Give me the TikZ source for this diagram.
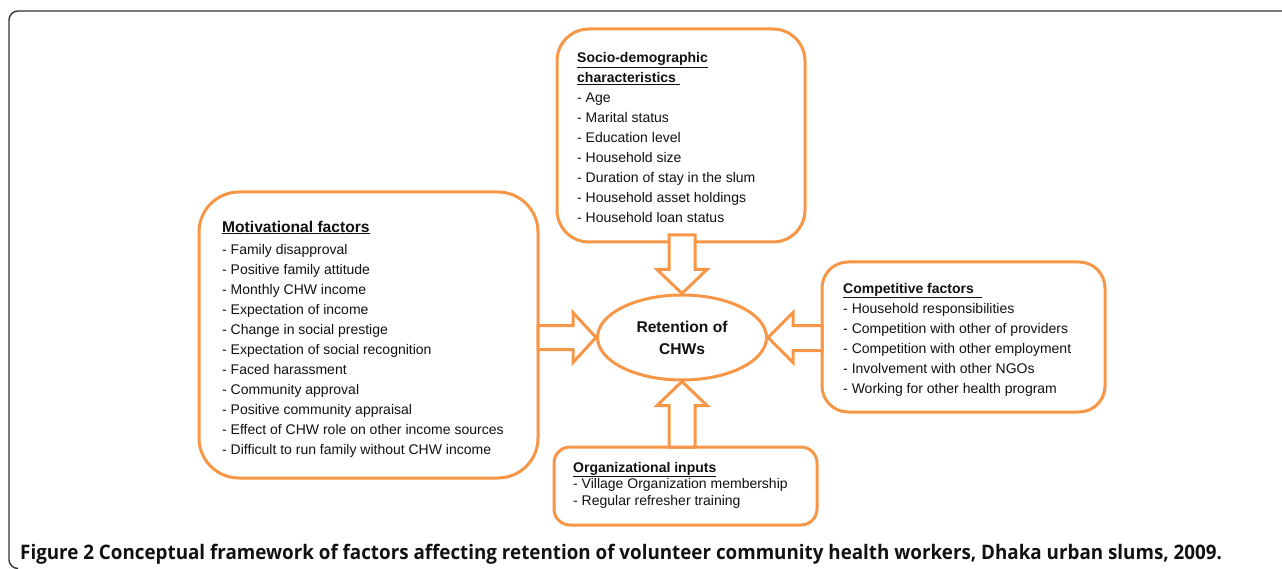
\documentclass[tikz,border=0pt]{standalone}
\usepackage{fontspec}
\setmainfont{Liberation Sans}
\newfontfamily\capbold{Open Sans}
\usetikzlibrary{shapes.geometric,calc}
\definecolor{orng}{HTML}{F79646}
\definecolor{framec}{HTML}{333333}
\definecolor{txt}{HTML}{111111}
\tikzset{
  fbox/.style={draw=orng, line width=3pt, fill=white, rounded corners=#1,
    rectangle, inner sep=0pt, outer sep=0pt, anchor=north west},
  blockarrow/.style={draw=orng, line width=3pt, fill=white, line join=miter},
  boxtext/.style={anchor=base west, align=left, inner sep=0pt, text=txt,
    font=\fontsize{14}{20}\selectfont},
  frame/.style={draw=framec, line width=1.4pt, rounded corners=9pt},
}
\newcommand{\ttl}[1]{\underline{\textbf{#1}}}
\begin{document}
\begin{tikzpicture}[x=1pt,y=-1pt]
\useasboundingbox (0,0) rectangle (1282,569);
% outer frame
\draw[frame] (16,568.5) -- (9,568.5) -- (9,11) -- (1300,11);

% boxes
\node[fbox=32pt, minimum width=248pt, minimum height=213pt] (socio) at (557,29) {};
\node[fbox=40pt, minimum width=339pt, minimum height=286pt] (motiv) at (199,192) {};
\node[fbox=26pt, minimum width=283pt, minimum height=150pt] (comp) at (822,262) {};
\node[fbox=16pt, minimum width=263pt, minimum height=78pt] (org) at (554,447) {};

% ellipse
\node[ellipse, draw=orng, line width=3pt, fill=white, minimum width=169pt,
  minimum height=85pt, inner sep=0pt, align=center, text=txt,
  font=\fontsize{15.6}{22}\selectfont\bfseries] (ell) at (682,337.5) {Retention of\\CHWs};

% block arrows
\draw[blockarrow] (ell.north) -- ($(ell.north)+(25,-24)$) -- ($(ell.north)+(13,-24)$)
  -- ($(ell.north |- socio.south)+(13,-7)$) -- ($(ell.north |- socio.south)+(-13,-7)$)
  -- ($(ell.north)+(-13,-24)$) -- ($(ell.north)+(-25,-24)$) -- cycle;
\draw[blockarrow] (ell.south) -- ($(ell.south)+(25,24)$) -- ($(ell.south)+(13,24)$)
  -- ($(ell.south |- org.north)+(13,0)$) -- ($(ell.south |- org.north)+(-13,0)$)
  -- ($(ell.south)+(-13,24)$) -- ($(ell.south)+(-25,24)$) -- cycle;
\draw[blockarrow] (ell.west) -- ($(ell.west)+(-23,-25)$) -- ($(ell.west)+(-23,-12)$)
  -- ($(ell.west -| motiv.east)+(0,-12)$) -- ($(ell.west -| motiv.east)+(0,12)$)
  -- ($(ell.west)+(-23,12)$) -- ($(ell.west)+(-23,25)$) -- cycle;
\draw[blockarrow] (ell.east) -- ($(ell.east)+(25,-25)$) -- ($(ell.east)+(25,-12)$)
  -- ($(ell.east -| comp.west)+(0,-12)$) -- ($(ell.east -| comp.west)+(0,13)$)
  -- ($(ell.east)+(25,13)$) -- ($(ell.east)+(25,25)$) -- cycle;

% texts (anchored at the baseline of their last line)
\node[boxtext] (sociot) at (577,223) {\ttl{Socio-demographic}\\\ttl{characteristics\ }\\
- Age\\- Marital status\\- Education level\\- Household size\\
- Duration of stay in the slum\\- Household asset holdings\\- Household loan status};

\node[boxtext] (motivt) at (222,454) {{\fontsize{15.6}{20}\selectfont\ttl{Motivational factors}}\\[2pt]
- Family disapproval\\- Positive family attitude\\- Monthly CHW income\\
- Expectation of income\\- Change in social prestige\\- Expectation of social recognition\\
- Faced harassment\\- Community approval\\- Positive community appraisal\\
- Effect of CHW role on other income sources\\- Difficult to run family without CHW income};

\node[boxtext] (compt) at (843,393) {\ttl{Competitive factors\ \ }\\
- Household responsibilities\\- Competition with other of providers\\
- Competition with other employment\\- Involvement with other NGOs\\
- Working for other health program};

\node[boxtext, font=\fontsize{14}{16.5}\selectfont] (orgt) at (573,505) {\ttl{Organizational inputs}\\
- Village Organization membership\\- Regular refresher training};

% caption
\node[anchor=base west, inner sep=0pt, text=txt, font=\fontsize{20}{24}\selectfont] (cap) at (20,559)
  {\scalebox{0.94}[1]{\capbold\bfseries Figure 2 Conceptual framework of factors affecting retention of volunteer community health workers, Dhaka urban slums, 2009.}};
\end{tikzpicture}
\end{document}
